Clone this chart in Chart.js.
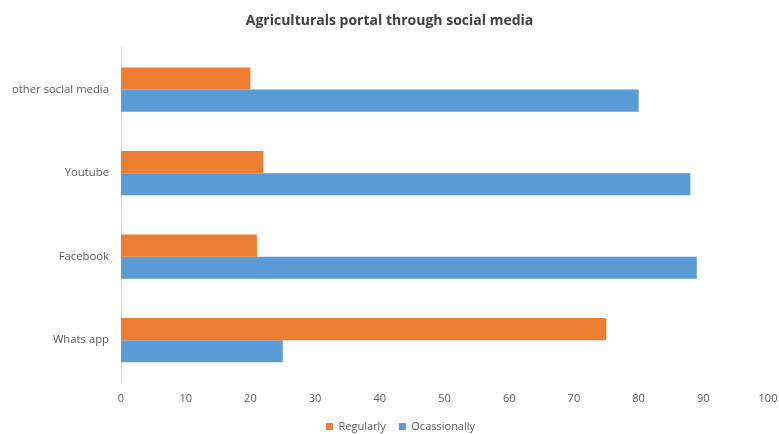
<!DOCTYPE html>
<html>
<head>
<meta charset="utf-8">
<script src="https://cdn.jsdelivr.net/npm/chart.js@4/dist/chart.umd.min.js"></script>
<style>
  html, body { margin: 0; padding: 0; background: #fff; }
  #wrap { width: 779px; height: 434px; }
</style>
</head>
<body>
<div id="wrap"><canvas id="chart" width="779" height="434"></canvas></div>
<script>
// Chart data
const categories = ['other social media', 'Youtube', 'Facebook', 'Whats app'];
const regularly = [20, 22, 21, 75];
const occasionally = [80, 88, 89, 25];
const xTicks = [0, 10, 20, 30, 40, 50, 60, 70, 80, 90, 100];

const textColor = '#595959';
const font = "'Open Sans', 'Liberation Sans', sans-serif";

// nudge the bottom legend a little right, like the original
const legendShift = {
  id: 'legendShift',
  afterLayout(chart) {
    chart.legend.left += 11;
    chart.legend.right += 11;
  }
};

const ctx = document.getElementById('chart').getContext('2d');
new Chart(ctx, {
  type: 'bar',
  data: {
    labels: categories,
    datasets: [
      { label: 'Regularly', data: regularly, backgroundColor: '#ED7D31' },
      { label: 'Ocassionally', data: occasionally, backgroundColor: '#5B9BD5' }
    ]
  },
  plugins: [legendShift],
  options: {
    indexAxis: 'y',
    responsive: false,
    animation: false,
    layout: { padding: { left: 0, right: 0, top: 0, bottom: -8 } },
    datasets: { bar: { barPercentage: 1, categoryPercentage: 0.53 } },
    plugins: {
      title: {
        display: true,
        text: 'Agriculturals portal through social media',
        color: '#404040',
        font: { family: font, size: 14, weight: 'bold' },
        padding: { top: 13, bottom: 18 }
      },
      legend: {
        position: 'bottom',
        labels: {
          color: textColor,
          font: { family: font, size: 11 },
          boxWidth: 7,
          boxHeight: 7,
          padding: 13
        }
      },
      tooltip: { enabled: false }
    },
    scales: {
      x: {
        min: 0,
        max: 100,
        afterBuildTicks: axis => { axis.ticks = xTicks.map(v => ({ value: v })); },
        grid: { display: false, drawTicks: false },
        border: { display: false },
        ticks: { color: textColor, font: { family: font, size: 11 }, padding: 10, maxRotation: 0 },
        afterFit: axis => { axis.height = 26; axis.paddingRight = 11; }
      },
      y: {
        grid: { display: false, drawTicks: false },
        border: { display: true, color: '#d9d9d9', width: 1 },
        ticks: { color: textColor, font: { family: font, size: 11.3 }, padding: 12 },
        afterFit: axis => { axis.width = 121; }
      }
    }
  }
});
</script>
</body>
</html>
